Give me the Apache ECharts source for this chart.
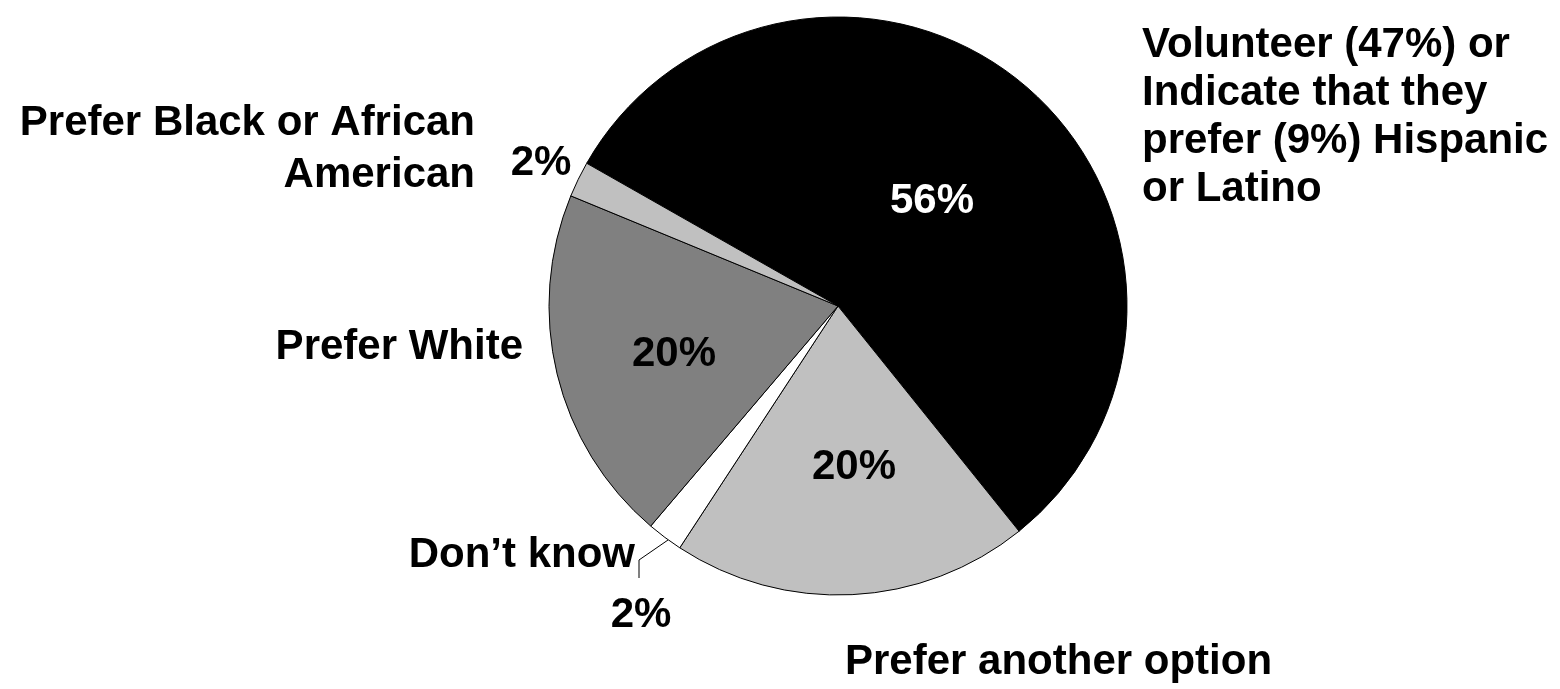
<!DOCTYPE html>
<html>
<head>
<meta charset="utf-8">
<script src="https://cdn.jsdelivr.net/npm/echarts@6/dist/echarts.min.js"></script>
<style>
html,body{margin:0;padding:0;background:#fff;}
#chart{width:1560px;height:689px;}
</style>
</head>
<body>
<div id="chart"></div>
<script>
// Data
const categories = [
  'Volunteer (47%) or\nIndicate that they\nprefer (9%) Hispanic\nor Latino',
  'Prefer another option',
  'Don\u2019t know',
  'Prefer White',
  'Prefer Black or African\nAmerican'
];
const values = [56, 20, 2, 20, 2];
const colors = ['#000000', '#C0C0C0', '#FFFFFF', '#808080', '#C0C0C0'];
const pctColors = ['#FFFFFF', '#000000', '#000000', '#000000', '#000000'];

const FONT = '"Liberation Sans", Arial, sans-serif';
const FS = 42;

// label anchor positions (layout only)
const pctPos = [[932, 201], [854, 467], [641, 615], [674, 354], [541, 163]];
const catText = [
  {x: 1142, y: 21, align: 'left', lh: 48},
  {x: 845, y: 638, align: 'left', lh: 48},
  {x: 635, y: 531, align: 'right', lh: 48},
  {x: 523, y: 323, align: 'right', lh: 48},
  {x: 475, y: 97, align: 'right', lh: 52}
];

const chart = echarts.init(document.getElementById('chart'), null, {renderer: 'canvas'});

const graphics = categories.map((c, i) => ({
  type: 'text',
  x: catText[i].x,
  y: catText[i].y,
  style: {
    text: c,
    font: 'bold ' + FS + 'px ' + FONT,
    fill: '#000',
    align: catText[i].align,
    verticalAlign: 'top',
    lineHeight: catText[i].lh
  }
}));
graphics.push({
  type: 'polyline',
  shape: {points: [[668, 540], [639, 560], [639, 578]]},
  style: {stroke: '#000', lineWidth: 1, fill: null}
});

chart.setOption({
  backgroundColor: '#fff',
  animation: false,
  series: [{
    type: 'pie',
    center: [838, 306],
    radius: 289,
    startAngle: 150.4,
    clockwise: true,
    avoidLabelOverlap: false,
    itemStyle: {borderColor: '#000', borderWidth: 1},
    label: {
      show: true,
      position: 'inside',
      fontFamily: FONT,
      fontWeight: 'bold',
      fontSize: FS,
      formatter: p => p.value + '%'
    },
    labelLine: {show: false},
    labelLayout: p => ({
      x: pctPos[p.dataIndex][0],
      y: pctPos[p.dataIndex][1],
      align: 'center',
      verticalAlign: 'middle'
    }),
    emphasis: {disabled: true},
    data: values.map((v, i) => ({
      value: v,
      name: categories[i],
      itemStyle: {color: colors[i]},
      label: {color: pctColors[i]}
    }))
  }],
  graphic: graphics
});
</script>
</body>
</html>
